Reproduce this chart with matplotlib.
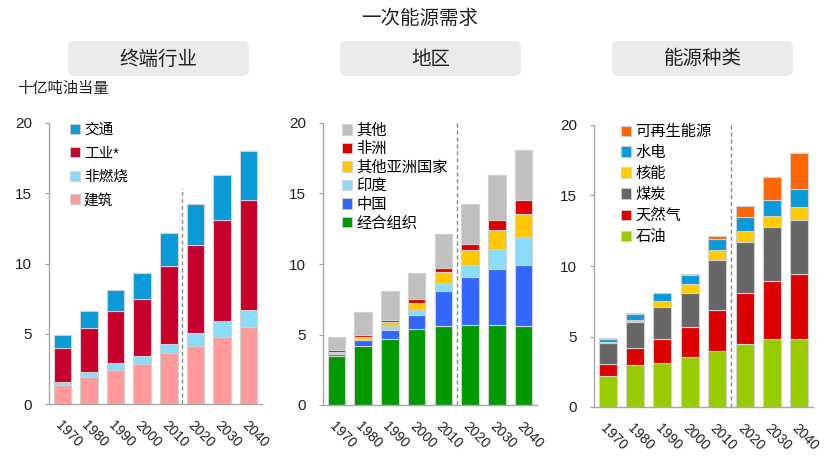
import matplotlib
matplotlib.use("Agg")
import matplotlib.pyplot as plt
from matplotlib.patches import FancyBboxPatch, Patch
from matplotlib.transforms import ScaledTranslation
import numpy as np

plt.rcParams['font.family'] = ['Liberation Sans', 'Noto Sans CJK SC', 'DejaVu Sans']

years = ['1970', '1980', '1990', '2000', '2010', '2020', '2030', '2040']

# Panel 1: end-use sector (bottom to top)
sector_names = ['建筑', '非燃烧', '工业*', '交通']
building = [1.35, 1.9, 2.45, 2.85, 3.6, 4.1, 4.75, 5.45]
nonfuel = [0.25, 0.35, 0.45, 0.6, 0.7, 0.95, 1.15, 1.25]
industry = [2.4, 3.15, 3.75, 4.05, 5.5, 6.3, 7.2, 7.85]
transport = [0.9, 1.2, 1.45, 1.85, 2.35, 2.9, 3.2, 3.45]
sector_colors = ['#ff9a9a', '#8adcfa', '#c8002e', '#0a9ad8']

# Panel 2: region (bottom to top)
region_names = ['经合组织', '中国', '印度', '其他亚洲国家', '非洲', '其他']
oecd = [3.45, 4.2, 4.7, 5.4, 5.6, 5.65, 5.65, 5.6]
china = [0.15, 0.4, 0.65, 1.0, 2.5, 3.4, 4.0, 4.35]
india = [0.08, 0.1, 0.25, 0.35, 0.55, 0.9, 1.4, 1.95]
other_asia = [0.1, 0.15, 0.3, 0.5, 0.75, 1.05, 1.35, 1.65]
africa = [0.1, 0.15, 0.15, 0.25, 0.35, 0.45, 0.7, 1.0]
other_region = [0.95, 1.6, 2.0, 1.85, 2.4, 2.8, 3.2, 3.5]
region_colors = ['#009a00', '#3366ff', '#8adcfa', '#ffc800', '#e00000', '#c0c0c0']

# Panel 3: fuel (bottom to top)
fuel_names = ['石油', '天然气', '煤炭', '核能', '水电', '可再生能源']
oil = [2.2, 2.95, 3.1, 3.55, 3.95, 4.5, 4.8, 4.8]
gas = [0.85, 1.25, 1.75, 2.15, 2.9, 3.55, 4.15, 4.65]
coal = [1.5, 1.85, 2.25, 2.4, 3.6, 3.65, 3.8, 3.8]
nuclear = [0.03, 0.15, 0.45, 0.6, 0.65, 0.75, 0.8, 0.95]
hydro = [0.27, 0.4, 0.5, 0.65, 0.8, 1.0, 1.15, 1.25]
renew = [0.05, 0.05, 0.05, 0.05, 0.25, 0.8, 1.6, 2.55]
fuel_colors = ['#99cc00', '#dd0000', '#666666', '#ffcc00', '#0a9ad8', '#ff6600']

panel_titles = ['终端行业', '地区', '能源种类']

fig = plt.figure(figsize=(8.4, 4.7), dpi=100)

axes_rects = [
    [49/840, 66/470, 213/840, 281/470],
    [323/840, 65/470, 214/840, 282/470],
    [594/840, 63/470, 219/840, 282/470],
]
panels = [
    (sector_names, [building, nonfuel, industry, transport], sector_colors, 15.4,
     (0.099, 1.0), 10.5, 0.65),
    (region_names, [oecd, china, india, other_asia, africa, other_region], region_colors, 20,
     (0.088, 0.998), 11, 0.29),
    (fuel_names, [oil, gas, coal, nuclear, hydro, renew], fuel_colors, 20,
     (0.123, 1.0), 11, 0.45),
]

shift = ScaledTranslation(4 / 100, 0, fig.dpi_scale_trans)

x = np.arange(len(years))
for rect, (names, series, colors, divtop, legpos, legfs, legsp) in zip(axes_rects, panels):
    ax = fig.add_axes(rect)
    bottom = np.zeros(len(years))
    for vals, c in zip(series, colors):
        ax.bar(x, vals, bottom=bottom, width=0.66, color=c,
               edgecolor='#d0d0d0', linewidth=0.8, zorder=2)
        bottom += np.array(vals)
    ax.plot([4.5, 4.5], [0, divtop], color='#8a8a8a', linestyle=(0, (3, 2)),
            linewidth=1, zorder=1)
    ax.set_xlim(-0.5, 7.5)
    ax.set_ylim(0, 20)
    ax.set_yticks([0, 5, 10, 15, 20])
    ax.set_xticks(x)
    ax.set_xticklabels(years, rotation=-45, ha='left', va='top',
                       rotation_mode='anchor', fontsize=10, color='#222222')
    for lbl in ax.get_xticklabels():
        lbl.set_transform(lbl.get_transform() + shift)
    ax.tick_params(axis='x', length=0, pad=10)
    ax.tick_params(axis='y', length=3, color='#a0a0a0', labelsize=11,
                   labelcolor='#222222', pad=9)
    for s in ['top', 'right']:
        ax.spines[s].set_visible(False)
    for s in ['left', 'bottom']:
        ax.spines[s].set_color('#a8a8a8')
        ax.spines[s].set_linewidth(1)
    handles = [Patch(facecolor=c, edgecolor='#d0d0d0', linewidth=0.6)
               for c in colors][::-1]
    ax.legend(handles, names[::-1], loc='upper left', bbox_to_anchor=legpos,
              frameon=False, fontsize=legfs, handlelength=0.65, handleheight=0.65,
              handletextpad=0.3, labelspacing=legsp, borderpad=0, borderaxespad=0)

# Panel title boxes
box_x = [68, 340, 612]
for bx, t in zip(box_x, panel_titles):
    patch = FancyBboxPatch((bx / 100, 394 / 100), 181 / 100, 35 / 100,
                           boxstyle='round,pad=0,rounding_size=0.06',
                           transform=fig.dpi_scale_trans, facecolor='#ebebeb',
                           edgecolor='none')
    fig.patches.append(patch)
    fig.text((bx + 90.5) / 840, (470 - 59) / 470, t, ha='center', va='center',
             fontsize=14, color='#222222', family=['Noto Sans CJK SC'])

fig.text(0.5, (470 - 18) / 470, '一次能源需求', ha='center', va='center',
         fontsize=14, color='#222222', family=['Noto Sans CJK SC'])
fig.text(17 / 840, (470 - 89) / 470, '十亿吨油当量', ha='left', va='center',
         fontsize=11, color='#222222', family=['Noto Sans CJK SC'])

fig.savefig('out.png', dpi=100)
